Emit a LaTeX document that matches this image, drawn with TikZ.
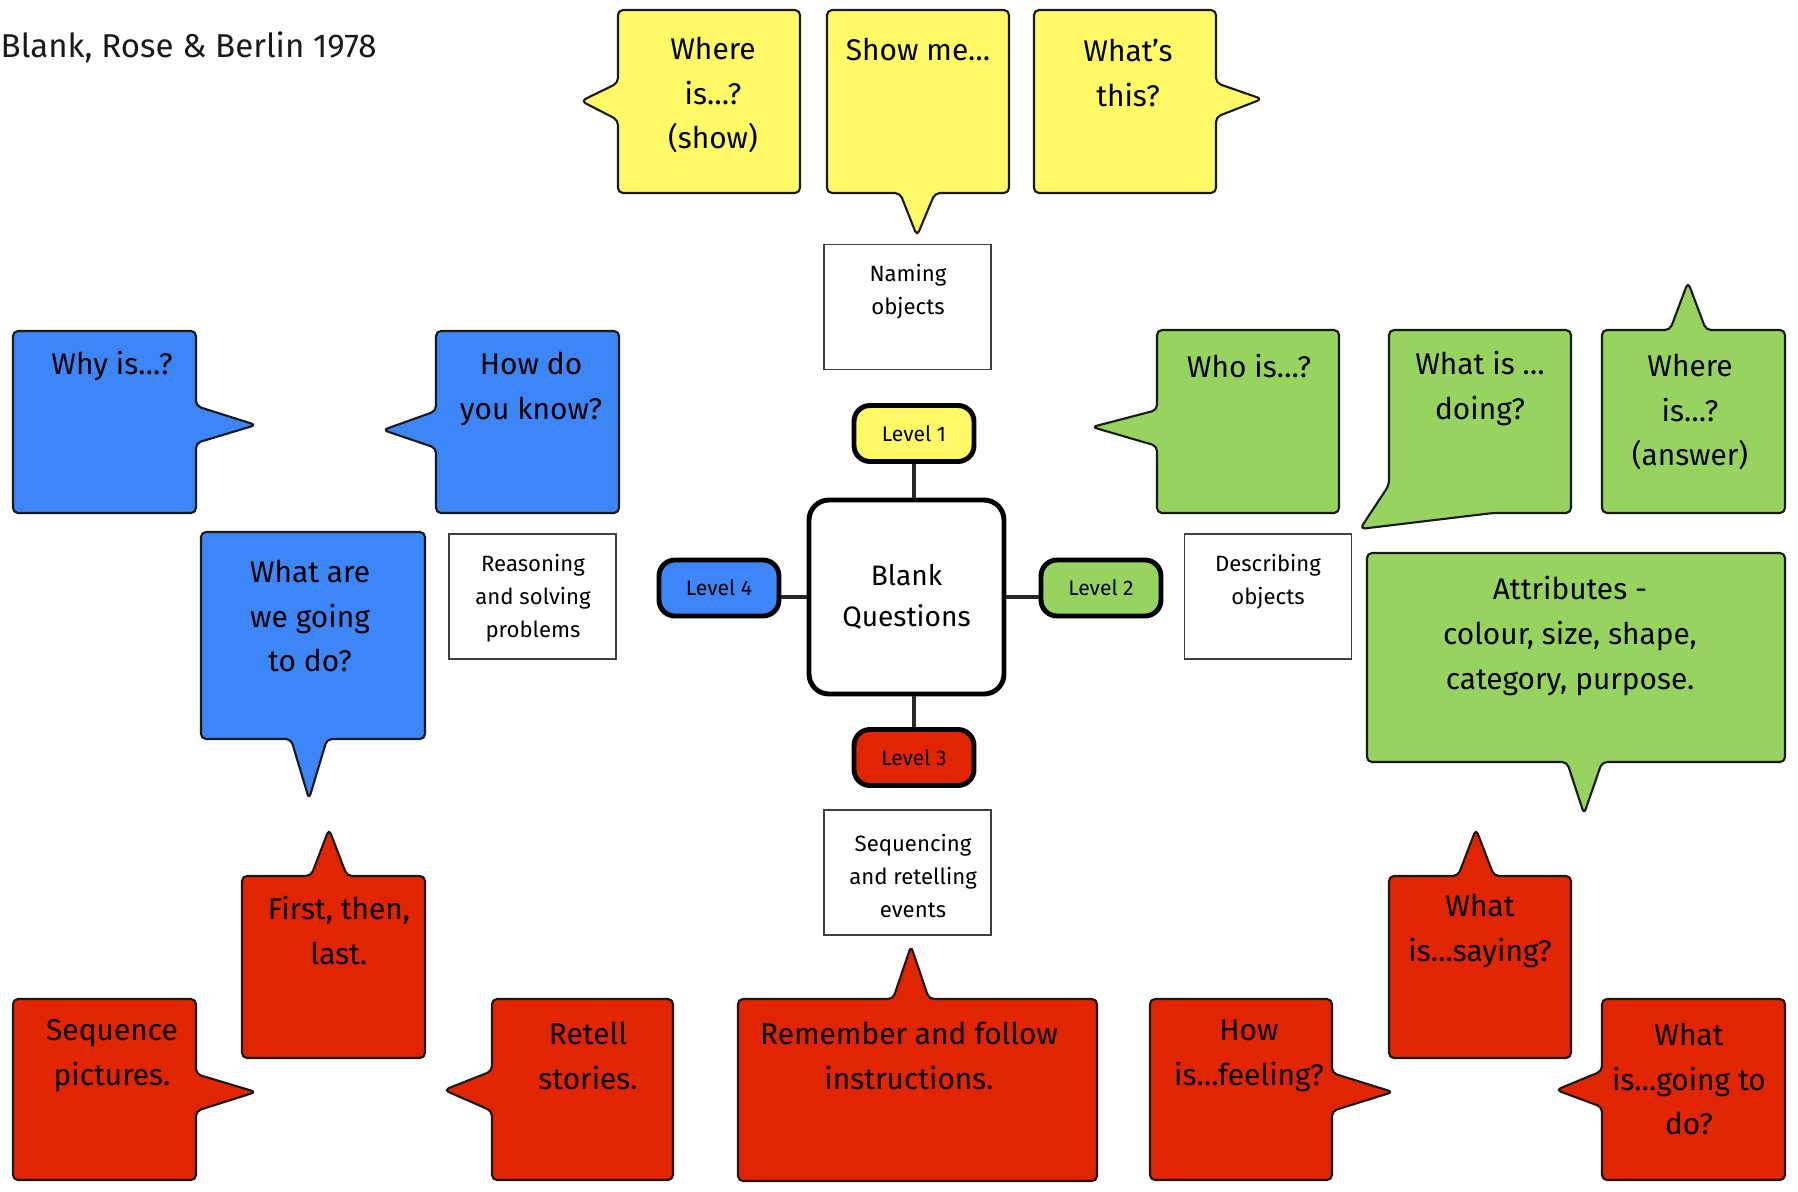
\documentclass[tikz,border=0pt]{standalone}
\usepackage{fontspec}
\setmainfont{Fira Sans}
\definecolor{lvyellow}{HTML}{FFFA66}
\definecolor{lvblue}{HTML}{3D86F8}
\definecolor{lvgreen}{HTML}{97D45F}
\definecolor{lvred}{HTML}{E02500}
\tikzset{
  bubble/.style={draw=black!90, line width=0.6pt, rounded corners=0.5mm, line join=round},
  qtext/.style={align=center, font=\fontsize{8.5}{12.8}\selectfont, inner sep=0pt},
  infobox/.style={draw=black!75, line width=0.5pt, minimum width=1.67cm, minimum height=1.25cm, inner sep=0pt},
  infotext/.style={align=center, font=\fontsize{6.3}{9.4}\selectfont, inner sep=0pt},
  level/.style={draw=black, line width=1.4pt, rounded corners=1.6mm, minimum width=1.20cm, minimum height=0.56cm, font=\fontsize{6}{7}\selectfont, inner sep=0pt},
  link/.style={line width=1pt, black!85}
}
\begin{document}
\begin{tikzpicture}
\useasboundingbox (0,0) rectangle (17.98,-11.92);

\node[anchor=west, font=\fontsize{9.4}{11}\selectfont, text=black!90, inner sep=0pt] (source) at (0,-0.47) {Blank, Rose \& Berlin 1978};

% level 1
\draw[bubble, fill=lvyellow] (6.18,-0.10) -- (8.00,-0.10) -- (8.00,-1.93) -- (6.18,-1.93) -- (6.18,-1.20) -- (5.81,-1.01) -- (6.18,-0.83) -- cycle;
\node[qtext] (whereshow) at (7.13,-0.95) {Where\\is…?\\(show)};
\draw[bubble, fill=lvyellow] (8.27,-0.10) -- (10.09,-0.10) -- (10.09,-1.93) -- (9.35,-1.93) -- (9.17,-2.36) -- (9.00,-1.93) -- (8.27,-1.93) -- cycle;
\node[qtext] (showme) at (9.18,-0.50) {Show me…};
\draw[bubble, fill=lvyellow] (10.34,-0.10) -- (12.16,-0.10) -- (12.16,-0.83) -- (12.62,-0.99) -- (12.16,-1.17) -- (12.16,-1.93) -- (10.34,-1.93) -- cycle;
\node[qtext] (whatsthis) at (11.28,-0.73) {What’s\\this?};

% level 4
\draw[bubble, fill=lvblue] (0.13,-3.31) -- (1.96,-3.31) -- (1.96,-4.06) -- (2.56,-4.25) -- (1.96,-4.43) -- (1.96,-5.13) -- (0.13,-5.13) -- cycle;
\node[qtext] (whyis) at (1.12,-3.66) {Why is…?};
\draw[bubble, fill=lvblue] (4.36,-3.31) -- (6.19,-3.31) -- (6.19,-5.13) -- (4.36,-5.13) -- (4.36,-4.48) -- (3.83,-4.30) -- (4.36,-4.11) -- cycle;
\node[qtext] (howknow) at (5.31,-3.885) {How do\\you know?};
\draw[bubble, fill=lvblue] (2.01,-5.32) -- (4.25,-5.32) -- (4.25,-7.39) -- (3.27,-7.39) -- (3.09,-7.99) -- (2.91,-7.39) -- (2.01,-7.39) -- cycle;
\node[qtext] (wegoing) at (3.10,-6.16) {What are\\we going\\to do?};

% level 3
\draw[bubble, fill=lvred] (2.42,-8.76) -- (3.11,-8.76) -- (3.29,-8.29) -- (3.47,-8.76) -- (4.25,-8.76) -- (4.25,-10.58) -- (2.42,-10.58) -- cycle;
\node[qtext] (firstthen) at (3.39,-9.305) {First, then,\\last.};
\draw[bubble, fill=lvred] (0.13,-9.99) -- (1.96,-9.99) -- (1.96,-10.74) -- (2.56,-10.92) -- (1.96,-11.11) -- (1.96,-11.80) -- (0.13,-11.80) -- cycle;
\node[qtext] (seqpics) at (1.12,-10.555) {Sequence\\pictures.};
\draw[bubble, fill=lvred] (4.92,-9.99) -- (6.73,-9.99) -- (6.73,-11.80) -- (4.92,-11.80) -- (4.92,-11.11) -- (4.44,-10.90) -- (4.92,-10.71) -- cycle;
\node[qtext] (retell) at (5.88,-10.555) {Retell\\stories.};
\draw[bubble, fill=lvred] (7.38,-9.99) -- (8.93,-9.99) -- (9.11,-9.46) -- (9.29,-9.99) -- (10.97,-9.99) -- (10.97,-11.81) -- (7.38,-11.81) -- cycle;
\node[qtext] (remember) at (9.09,-10.56) {Remember and follow\\instructions.};
\draw[bubble, fill=lvred] (11.50,-9.99) -- (13.32,-9.99) -- (13.32,-10.73) -- (13.93,-10.92) -- (13.32,-11.11) -- (13.32,-11.80) -- (11.50,-11.80) -- cycle;
\node[qtext] (feeling) at (12.49,-10.555) {How\\is…feeling?};
\draw[bubble, fill=lvred] (13.89,-8.76) -- (14.58,-8.76) -- (14.76,-8.29) -- (14.94,-8.76) -- (15.71,-8.76) -- (15.71,-10.58) -- (13.89,-10.58) -- cycle;
\node[qtext] (saying) at (14.80,-9.31) {What\\is…saying?};
\draw[bubble, fill=lvred] (16.02,-9.99) -- (17.85,-9.99) -- (17.85,-11.80) -- (16.02,-11.80) -- (16.02,-11.07) -- (15.56,-10.90) -- (16.02,-10.71) -- cycle;
\node[qtext] (goingto) at (16.89,-10.79) {What\\is…going to\\do?};

% level 2
\draw[bubble, fill=lvgreen] (11.57,-3.30) -- (13.39,-3.30) -- (13.39,-5.13) -- (11.57,-5.13) -- (11.57,-4.46) -- (10.92,-4.27) -- (11.57,-4.10) -- cycle;
\node[qtext] (whois) at (12.49,-3.66) {Who is…?};
\draw[bubble, fill=lvgreen] (13.89,-3.30) -- (15.71,-3.30) -- (15.71,-5.13) -- (14.93,-5.13) -- (13.60,-5.29) -- (13.89,-4.85) -- cycle;
\node[qtext] (doing) at (14.80,-3.885) {What is …\\doing?};
\draw[bubble, fill=lvgreen] (16.02,-3.30) -- (16.70,-3.30) -- (16.88,-2.82) -- (17.06,-3.30) -- (17.85,-3.30) -- (17.85,-5.13) -- (16.02,-5.13) -- cycle;
\node[qtext] (whereans) at (16.90,-4.12) {Where\\is…?\\(answer)};
\draw[bubble, fill=lvgreen] (13.67,-5.53) -- (17.85,-5.53) -- (17.85,-7.62) -- (16.02,-7.62) -- (15.84,-8.14) -- (15.67,-7.62) -- (13.67,-7.62) -- cycle;
\node[qtext] (attributes) at (15.70,-6.365) {Attributes -\\colour, size, shape,\\category, purpose.};

% skills
\node[infobox] (naming) at (9.075,-3.07) {};
\node[infotext] (namingtxt) at (9.08,-2.92) {Naming\\objects};
\node[infobox] (describing) at (12.68,-5.965) {};
\node[infotext] (describingtxt) at (12.68,-5.82) {Describing\\objects};
\node[infobox] (reasoning) at (5.325,-5.965) {};
\node[infotext] (reasoningtxt) at (5.33,-5.98) {Reasoning\\and solving\\problems};
\node[infobox] (sequencing) at (9.075,-8.725) {};
\node[infotext] (sequencingtxt) at (9.13,-8.76) {Sequencing\\and retelling\\events};

% centre
\node[draw, line width=1.4pt, rounded corners=2mm, minimum width=1.95cm, minimum height=1.94cm, align=center, font=\fontsize{8}{11.5}\selectfont] (blankq) at (9.065,-5.97) {Blank\\Questions};
\node[level, fill=lvyellow] (lvlone) at (9.14,-4.335) {Level 1};
\node[level, fill=lvgreen] (lvltwo) at (11.01,-5.88) {Level 2};
\node[level, fill=lvred] (lvlthree) at (9.14,-7.575) {Level 3};
\node[level, fill=lvblue] (lvlfour) at (7.19,-5.88) {Level 4};

\draw[link] (lvlone.south) -- (lvlone.south |- blankq.north);
\draw[link] (lvlthree.north) -- (lvlthree.north |- blankq.south);
\draw[link] (blankq.east) -- (blankq.east -| lvltwo.west);
\draw[link] (blankq.west) -- (blankq.west -| lvlfour.east);
\end{tikzpicture}
\end{document}
